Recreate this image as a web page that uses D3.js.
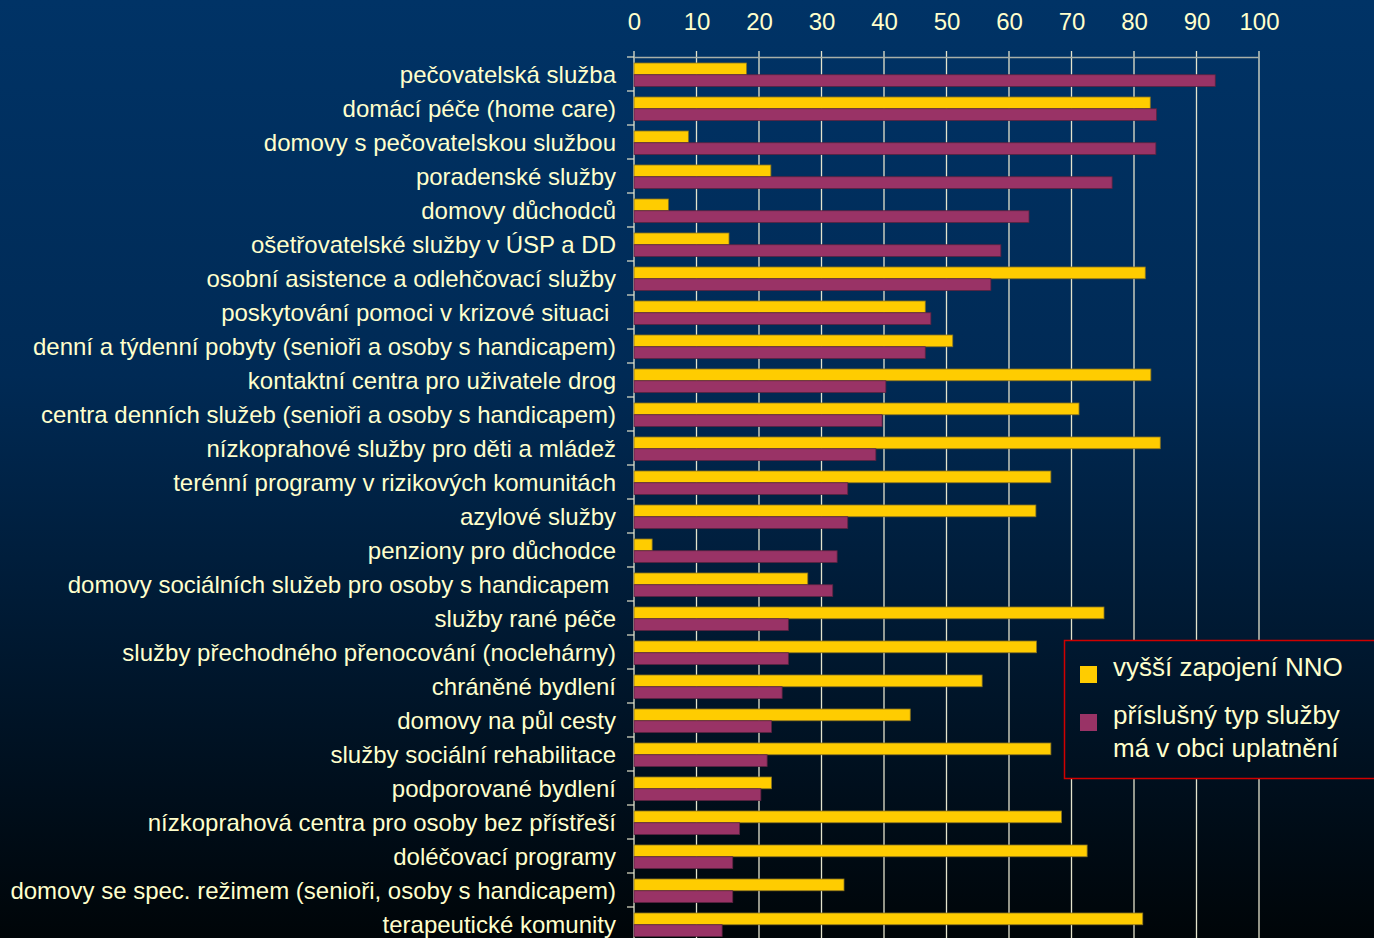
<!DOCTYPE html>
<html>
<head>
<meta charset="utf-8">
<script src="https://cdn.jsdelivr.net/npm/d3@7"></script>
<style>
  html, body { margin: 0; padding: 0; background: #000; }
  svg { display: block; font-family: "Liberation Sans", Arial, sans-serif; }
</style>
</head>
<body>
<svg id="chart"></svg>
<script>
var categories = [
    "pečovatelská služba",
    "domácí péče (home care)",
    "domovy s pečovatelskou službou",
    "poradenské služby",
    "domovy důchodců",
    "ošetřovatelské služby v ÚSP a DD",
    "osobní asistence a odlehčovací služby",
    "poskytování pomoci v krizové situaci ",
    "denní a týdenní pobyty (senioři a osoby s handicapem)",
    "kontaktní centra pro uživatele drog",
    "centra denních služeb (senioři a osoby s handicapem)",
    "nízkoprahové služby pro děti a mládež",
    "terénní programy v rizikových komunitách",
    "azylové služby",
    "penziony pro důchodce",
    "domovy sociálních služeb pro osoby s handicapem ",
    "služby rané péče",
    "služby přechodného přenocování (noclehárny)",
    "chráněné bydlení",
    "domovy na půl cesty",
    "služby sociální rehabilitace",
    "podporované bydlení",
    "nízkoprahová centra pro osoby bez přístřeší",
    "doléčovací programy",
    "domovy se spec. režimem (senioři, osoby s handicapem)",
    "terapeutické komunity"
];

// vyšší zapojení NNO
var nnoValues = [18, 82.6, 8.7, 21.9, 5.5, 15.2, 81.8, 46.6, 51, 82.7, 71.2, 84.2, 66.7,
                 64.3, 2.9, 27.8, 75.2, 64.4, 55.7, 44.2, 66.7, 22, 68.4, 72.5, 33.6, 81.4];

// příslušný typ služby má v obci uplatnění
var uplatneniValues = [93, 83.6, 83.5, 76.5, 63.2, 58.7, 57.1, 47.5, 46.6, 40.3, 39.7, 38.7, 34.2,
                       34.2, 32.5, 31.8, 24.7, 24.7, 23.7, 22, 21.3, 20.3, 16.9, 15.8, 15.8, 14.1];

var seriesKeys = ["nno", "upl"];
var seriesNames = ["vyšší zapojení NNO", "příslušný typ služby|má v obci uplatnění"];
var seriesColors = ["#ffcc00", "#993366"];
var xTicks = [0, 10, 20, 30, 40, 50, 60, 70, 80, 90, 100];

var W = 1374, H = 938;
var plotLeft = 634, plotRight = 1259, plotTop = 57, rowStep = 34;
var textColor = "#ffffcc";

var rows = categories.map(function(c, i) {
    return {cat: c, nno: nnoValues[i], upl: uplatneniValues[i]};
});

var svg = d3.select("#chart").attr("width", W).attr("height", H);

// background gradient (page coordinates, so the legend box can reuse it)
var defs = svg.append("defs");
var grad = defs.append("linearGradient").attr("id", "bg")
    .attr("gradientUnits", "userSpaceOnUse")
    .attr("x1", 0).attr("y1", 0).attr("x2", 0).attr("y2", H);
grad.append("stop").attr("offset", "0%").attr("stop-color", "#003366");
grad.append("stop").attr("offset", "40%").attr("stop-color", "#002a55");
grad.append("stop").attr("offset", "100%").attr("stop-color", "#000508");

svg.append("rect").attr("width", W).attr("height", H).attr("fill", "url(#bg)");

var xs = d3.scaleLinear().domain([0, 100]).range([plotLeft, plotRight]);
var ys = d3.scaleBand().domain(categories)
    .range([plotTop, plotTop + categories.length * rowStep]);
var yInner = d3.scaleBand().domain(seriesKeys).range([6, 29.5]);

// vertical grid lines
svg.append("g").selectAll("line")
    .data(xTicks)
    .enter()
    .append("line")
        .attr("x1", d => xs(d)).attr("x2", d => xs(d))
        .attr("y1", plotTop - 6).attr("y2", H)
        .attr("stroke", "#e4e4cc")
        .attr("stroke-width", 1.3);

// top frame line
svg.append("line")
    .attr("x1", plotLeft).attr("x2", plotRight)
    .attr("y1", plotTop + 0.5).attr("y2", plotTop + 0.5)
    .attr("stroke", "#a8b0a8")
    .attr("stroke-width", 1.5);

// top axis labels
var xAxis = svg.append("g")
    .attr("transform", "translate(0," + plotTop + ")")
    .call(d3.axisTop(xs).tickValues(xTicks).tickSize(6).tickPadding(21));
xAxis.select(".domain").remove();
xAxis.selectAll(".tick line").remove();
xAxis.selectAll("text")
    .attr("fill", textColor)
    .style("font-size", "24px")
    .style("font-family", "'Liberation Sans', Arial, sans-serif");

// left ticks at row boundaries
svg.append("g").selectAll("line")
    .data(d3.range(categories.length + 1))
    .enter()
    .append("line")
        .attr("x1", plotLeft - 7).attr("x2", plotLeft)
        .attr("y1", d => plotTop + d * rowStep).attr("y2", d => plotTop + d * rowStep)
        .attr("stroke", "#e4e4cc")
        .attr("stroke-width", 1.2);

// category labels
var yAxis = svg.append("g")
    .attr("transform", "translate(" + plotLeft + ",0)")
    .call(d3.axisLeft(ys).tickSize(0).tickPadding(18));
yAxis.select(".domain").remove();
yAxis.selectAll("text")
    .attr("fill", textColor)
    .attr("dy", "0.36em")
    .style("white-space", "pre")
    .style("font-size", "24px")
    .style("font-family", "'Liberation Sans', Arial, sans-serif");

// bars
var groups = svg.append("g").selectAll("g")
    .data(rows)
    .enter()
    .append("g")
        .attr("transform", d => "translate(0," + ys(d.cat) + ")");

groups.selectAll("rect")
    .data(d => seriesKeys.map(function(k) { return {key: k, value: d[k]}; }))
    .enter()
    .append("rect")
        .attr("x", xs(0))
        .attr("y", d => yInner(d.key))
        .attr("width", d => xs(d.value) - xs(0))
        .attr("height", yInner.bandwidth())
        .attr("fill", (d, i) => seriesColors[i])
        .attr("stroke", (d, i) => i == 0 ? "#8a7420" : "#5a2440")
        .attr("stroke-width", 0.8);

// legend (opaque box hides the grid behind it)
var legend = svg.append("g");
legend.append("rect")
    .attr("x", 1064.5).attr("y", 640.5)
    .attr("width", 330).attr("height", 138)
    .attr("fill", "url(#bg)")
    .attr("stroke", "#d00000")
    .attr("stroke-width", 1.5);

var legendRows = [676, 724];
seriesNames.forEach(function(name, i) {
    legend.append("rect")
        .attr("x", 1080).attr("y", legendRows[i] - 10)
        .attr("width", 17).attr("height", 17)
        .attr("fill", seriesColors[i]);
    name.split("|").forEach(function(line, j) {
        legend.append("text")
            .attr("x", 1113)
            .attr("y", legendRows[i] + j * 33)
            .attr("fill", textColor)
            .style("font-size", "26px")
            .text(line);
    });
});
</script>
</body>
</html>
